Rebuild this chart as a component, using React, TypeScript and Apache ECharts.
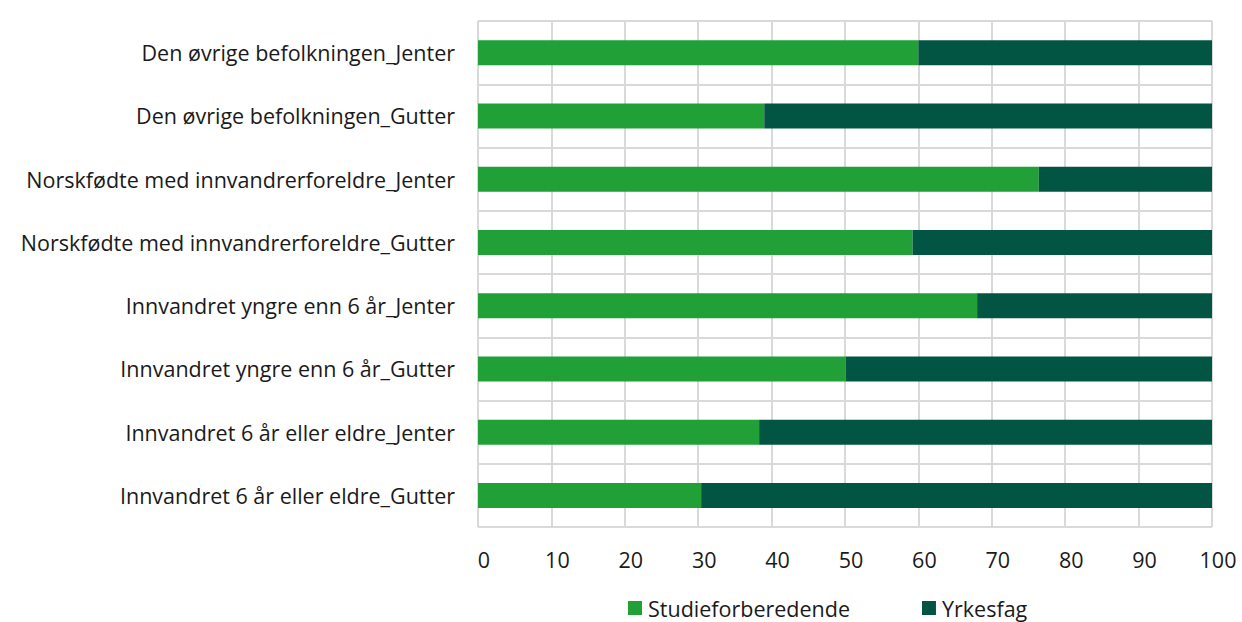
import React, { useEffect, useRef } from "react";
import * as echarts from "echarts";

const categories = [
  "Den øvrige befolkningen_Jenter",
  "Den øvrige befolkningen_Gutter",
  "Norskfødte med innvandrerforeldre_Jenter",
  "Norskfødte med innvandrerforeldre_Gutter",
  "Innvandret yngre enn 6 år_Jenter",
  "Innvandret yngre enn 6 år_Gutter",
  "Innvandret 6 år eller eldre_Jenter",
  "Innvandret 6 år eller eldre_Gutter",
];
const studieforberedende = [60, 39, 76.4, 59.2, 68, 50.1, 38.3, 30.4];
const yrkesfag = [40, 61, 23.6, 40.8, 32, 49.9, 61.7, 69.6];

export default function App() {
  const ref = useRef<HTMLDivElement>(null);
  useEffect(() => {
    if (!ref.current) return;
    const chart = echarts.init(ref.current, undefined, { renderer: "svg" });
    const font = "'Open Sans', 'Noto Sans', sans-serif";
    chart.setOption({
      animation: false,
      textStyle: { fontFamily: font },
      grid: { left: 478, right: 30, top: 21, bottom: 95, containLabel: false },
      legend: {
        top: 594,
        left: 623,
        padding: [3, 5, 0, 5],
        itemWidth: 14,
        itemHeight: 14,
        itemGap: 72,
        icon: "rect",
        textStyle: {
          fontSize: 21.5,
          lineHeight: 20,
          color: "#1a1a1a",
          fontFamily: font,
          padding: [0, 0, 0, 1],
        },
        data: ["Studieforberedende", "Yrkesfag"],
      },
      xAxis: {
        type: "value",
        min: 0,
        max: 100,
        interval: 10,
        axisLine: { show: false },
        axisTick: { show: false },
        axisLabel: {
          fontSize: 21.5,
          color: "#1a1a1a",
          margin: 21,
          fontFamily: font,
          padding: [0, 0, 0, 12],
        },
        splitLine: { show: true, lineStyle: { color: "#d9d9d9", width: 2 } },
      },
      yAxis: {
        type: "category",
        inverse: true,
        data: categories,
        axisLine: { show: false },
        axisTick: { show: false },
        axisLabel: { fontSize: 21.5, color: "#1a1a1a", margin: 23, fontFamily: font },
        splitLine: { show: true, lineStyle: { color: "#d9d9d9", width: 2 } },
      },
      series: [
        {
          name: "Studieforberedende",
          type: "bar",
          stack: "total",
          barWidth: 25,
          data: studieforberedende,
          itemStyle: { color: "#21a038" },
        },
        {
          name: "Yrkesfag",
          type: "bar",
          stack: "total",
          barWidth: 25,
          data: yrkesfag,
          itemStyle: { color: "#025542" },
        },
      ],
    });
    return () => chart.dispose();
  }, []);
  return (
    <div
      ref={ref}
      style={{ position: "fixed", left: 0, top: 0, width: 1242, height: 622, background: "#fff" }}
    />
  );
}
